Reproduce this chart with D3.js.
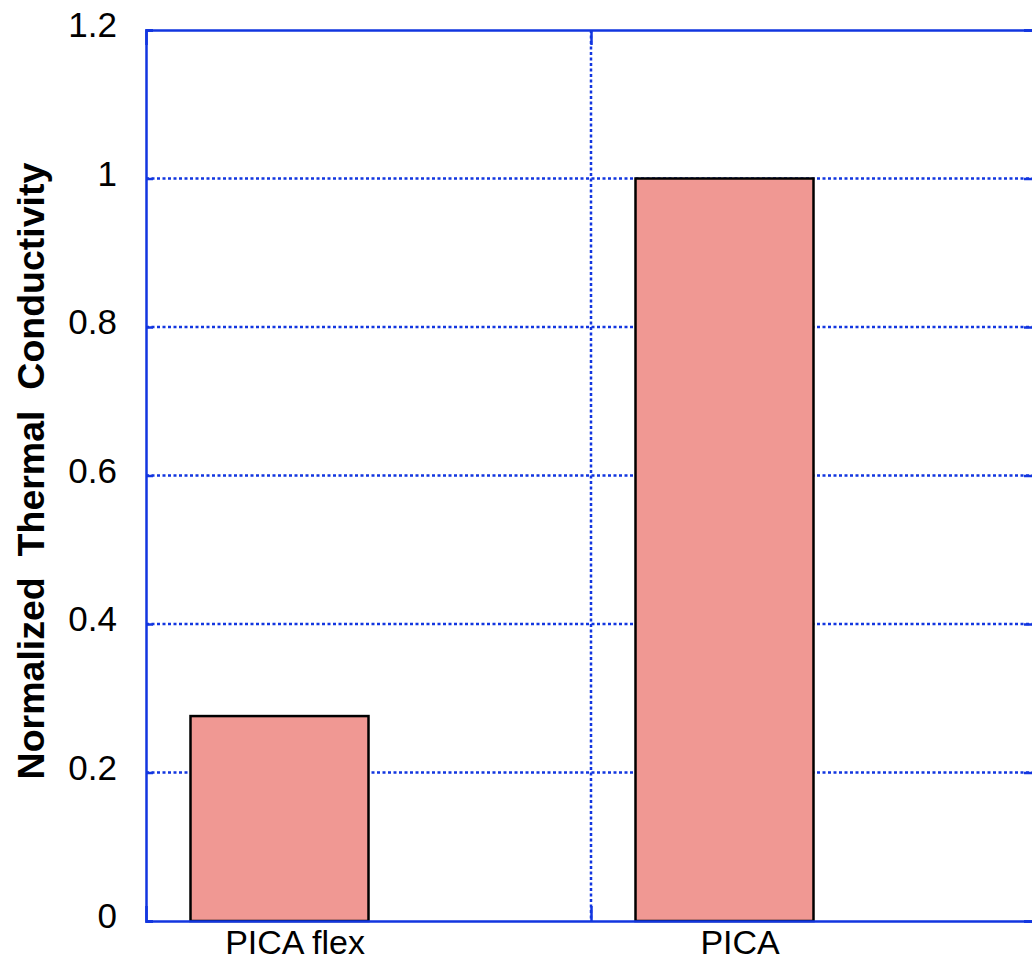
<!DOCTYPE html>
<html>
<head>
<meta charset="utf-8">
<script src="https://cdn.jsdelivr.net/npm/d3@7"></script>
<style>
  html, body { margin: 0; padding: 0; background: #fff; }
  svg { display: block; }
  text { font-family: "Liberation Sans", Arial, Helvetica, sans-serif; fill: #000; }
</style>
</head>
<body>
<svg id="chart" width="1032" height="961"></svg>
<script>
const categories = ["PICA flex", "PICA"];
const values = [0.276, 1.0];
const yTicks = [0, 0.2, 0.4, 0.6, 0.8, 1, 1.2];
const yTickLabels = ["0", "0.2", "0.4", "0.6", "0.8", "1", "1.2"];
const yLabel = "Normalized  Thermal  Conductivity";

const svg = d3.select("#chart");
const L = 146, R = 1036, T = 30, B = 921;
const blue = "#1236e0";

const x = d3.scaleLinear().domain([0, 2]).range([L, R]);
const y = d3.scaleLinear().domain([0, 1.2]).range([B, T]);

// grid lines
svg.append("g").selectAll("line").data(yTicks.slice(1, -1)).join("line")
  .attr("x1", L).attr("x2", R).attr("y1", d => y(d)).attr("y2", d => y(d))
  .attr("stroke", blue).attr("stroke-width", 2.5).attr("stroke-dasharray", "3,2.5");
svg.append("line")
  .attr("x1", x(1)).attr("x2", x(1)).attr("y1", T).attr("y2", B)
  .attr("stroke", blue).attr("stroke-width", 2.5).attr("stroke-dasharray", "3,2.5");

// bars
svg.append("g").selectAll("rect").data(values).join("rect")
  .attr("x", (d, i) => x(i + 0.1))
  .attr("width", (d, i) => x(i + 0.5) - x(i + 0.1))
  .attr("y", d => y(d))
  .attr("height", d => y(0) - y(d))
  .attr("fill", "#f09893")
  .attr("stroke", "#000")
  .attr("stroke-width", 2.5);

// axes (inward ticks)
const leftAxis = d3.axisRight(y).tickValues(yTicks).tickSize(7).tickFormat("");
const rightAxis = d3.axisLeft(y).tickValues(yTicks).tickSize(12).tickFormat("");
const bottomAxis = d3.axisTop(x).tickValues([1]).tickSize(15).tickFormat("");
const topAxis = d3.axisBottom(x).tickValues([1]).tickSize(15).tickFormat("");

function styleAxis(g) {
  g.select(".domain").attr("stroke", blue).attr("stroke-width", 2.5);
  g.selectAll(".tick line").attr("stroke", blue).attr("stroke-width", 2.5);
}
svg.append("g").attr("transform", `translate(${L},0)`).call(leftAxis).call(styleAxis);
svg.append("g").attr("transform", `translate(${R},0)`).call(rightAxis).call(styleAxis);
svg.append("g").attr("transform", `translate(0,${B})`).call(bottomAxis).call(styleAxis);
svg.append("g").attr("transform", `translate(0,${T})`).call(topAxis).call(styleAxis);
svg.selectAll(".domain").attr("fill", "none");

// y tick labels
svg.append("g").selectAll("text").data(yTicks).join("text")
  .attr("x", 117).attr("y", d => y(d) + 7)
  .attr("text-anchor", "end")
  .attr("font-size", 35)
  .text((d, i) => yTickLabels[i]);

// category labels
svg.append("g").selectAll("text").data(categories).join("text")
  .attr("x", (d, i) => x(i + 0.335))
  .attr("y", 954)
  .attr("text-anchor", "middle")
  .attr("font-size", 34)
  .text(d => d);

// y label
svg.append("text")
  .attr("transform", `translate(44,${471}) rotate(-90)`)
  .attr("text-anchor", "middle")
  .attr("font-size", 37.5)
  .attr("font-weight", "bold")
  .style("white-space", "pre")
  .text(yLabel);
</script>
</body>
</html>
